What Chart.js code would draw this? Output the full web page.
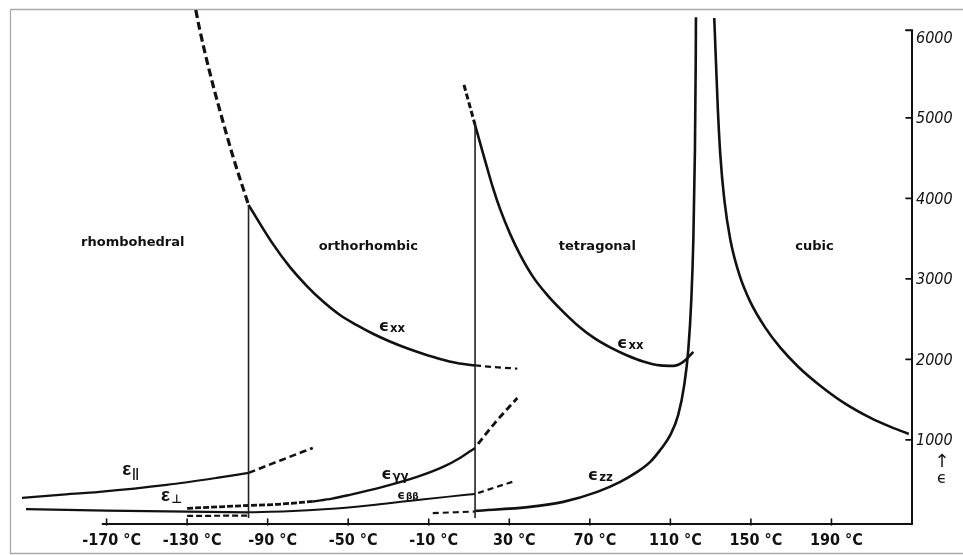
<!DOCTYPE html>
<html>
<head>
<meta charset="utf-8">
<title>Dielectric constant of BaTiO3 single crystals</title>
<script src="https://cdn.jsdelivr.net/npm/chart.js@4.4.1/dist/chart.umd.min.js"></script>
<style>
  html, body { margin: 0; padding: 0; background: #fff; }
  #wrap { width: 963px; height: 555px; }
</style>
</head>
<body>
<div id="wrap"><canvas id="epsChart"></canvas></div>
<script>
// axis ticks: temperature in °C, permittivity
const xTicks = [-170, -130, -90, -50, -10, 30, 70, 110, 150, 190];
const yTicks = [1000, 2000, 3000, 4000, 5000, 6000];
const phases = ['rhombohedral', 'orthorhombic', 'tetragonal', 'cubic'];

// phase transition temperatures
const transitions = [-99.5, 13];

// curves as [temperature, epsilon] pairs
const exxRhombo = [[-125.7, 6340], [-123.8, 6104], [-118.8, 5570], [-113.8, 5098], [-107.3, 4527], [-99.5, 3918]];
const exxOrtho = [[-99.5, 3918], [-87.5, 3438], [-79, 3149], [-70.5, 2911], [-62.6, 2721], [-54.1, 2551],
  [-45.7, 2425], [-37.7, 2318], [-29.3, 2222], [-20.8, 2138], [-12.9, 2070], [-4.4, 2005], [4, 1955],
  [13, 1925]];
const exxOrthoExt = [[13, 1925], [22, 1905], [34, 1885]];
const exxTetraExt = [[7.5, 5409], [13, 4912]];
const exxTetra = [[13, 4912], [15.5, 4689], [19, 4378], [21.9, 4130], [25.4, 3869], [30.4, 3559], [35.4, 3298],
  [41.8, 3025], [48.8, 2801], [55.3, 2627], [63.7, 2428], [71.7, 2273], [80.1, 2149], [88.6, 2049],
  [96.5, 1975], [105, 1925], [111.5, 1919], [116.4, 1969], [121.4, 2093]];
const ezzExt = [[-8, 90], [13, 110]];
const ezz = [[13, 118], [40.3, 168], [56.8, 230], [73.7, 354], [85.1, 478], [93.5, 602], [100, 727],
  [105, 876], [110, 1062], [113.9, 1310], [116.9, 1683], [118.9, 2118], [120.4, 2739], [121.4, 3484],
  [122.2, 4602], [122.6, 5719], [122.7, 6250]];
const cubic = [[131.8, 6241], [132.6, 5719], [133.6, 5098], [134.8, 4540], [136.8, 3981], [139.8, 3484],
  [144.3, 3049], [149.7, 2714], [157.2, 2391], [164.7, 2142], [173.6, 1906], [184.6, 1670], [197, 1447],
  [209.4, 1273], [219.4, 1161], [228.4, 1074]];
const ePar = [[-212, 279], [-193.4, 317], [-173.5, 354], [-140.2, 441], [-115.3, 528], [-99.5, 590]];
const eParExt = [[-99.5, 590], [-83, 751], [-67.6, 900]];
const ePerp = [[-210, 140], [-170, 122], [-130, 108], [-99.5, 100]];
const eBB = [[-99.5, 100], [-80, 112], [-60, 140], [-40, 185], [-20, 240], [0, 295], [13, 329]];
const eBBExtLow = [[-130, 55], [-99.5, 60]];
const eBBExt = [[14.5, 340], [23, 410], [33, 491]];
const eGGExt = [[-130, 150], [-99.5, 185], [-85, 200], [-67.6, 235]];
const eGG = [[-67.6, 235], [-58, 270], [-49.2, 317], [-32.8, 416], [-15.8, 540], [-2.9, 664], [5.5, 776], [13, 900]];
const eGGExtHigh = [[14.5, 950], [23, 1215], [34, 1521]];

const ink = '#111';

function curve(pts, width) {
  return {
    data: pts.map(p => ({ x: p[0], y: p[1] })),
    borderColor: ink,
    borderWidth: width || 2.4,
    pointRadius: 0,
    fill: false,
    cubicInterpolationMode: 'monotone'
  };
}

function dashed(pts, width, dash) {
  const ds = curve(pts, width);
  ds.borderDash = dash || [7, 4];
  return ds;
}

// vertical boundaries between phases, from the eps_xx jump down to the base line
function boundary(t, top) {
  return {
    data: [{ x: t, y: top }, { x: t, y: 30 }],
    borderColor: '#222',
    borderWidth: 1.6,
    pointRadius: 0,
    tension: 0,
    fill: false
  };
}

const datasets = [
  boundary(transitions[0], exxOrtho[0][1]),
  boundary(transitions[1], exxTetra[0][1]),
  dashed(exxRhombo, 3.2, [8, 4]),
  curve(exxOrtho, 2.6),
  dashed(exxOrthoExt, 2.2, [6, 4]),
  dashed(exxTetraExt, 3, [6, 3]),
  curve(exxTetra, 2.6),
  dashed(ezzExt, 2.2, [6, 4]),
  curve(ezz, 2.6),
  curve(cubic, 2.6),
  curve(ePar, 2.2),
  dashed(eParExt, 2.6, [7, 4]),
  curve(ePerp, 2.2),
  curve(eBB, 2),
  dashed(eBBExtLow, 2.2, [6, 3]),
  dashed(eBBExt, 2.2, [6, 4]),
  dashed(eGGExt, 2.8, [6, 2]),
  curve(eGG, 2.4),
  dashed(eGGExtHigh, 2.8, [7, 4])
];

// draw a symbol with a subscript, centred on (x, y)
function subLabel(ctx, x, y, main, sub, mainFont, subFont, drop) {
  ctx.font = mainFont;
  const w1 = ctx.measureText(main).width;
  ctx.font = subFont;
  const w2 = ctx.measureText(sub).width;
  const x0 = x - (w1 + w2 + 1) / 2;
  ctx.textAlign = 'left';
  ctx.textBaseline = 'middle';
  ctx.font = mainFont;
  ctx.fillText(main, x0, y);
  ctx.font = subFont;
  ctx.fillText(sub, x0 + w1 + 1, y + drop);
}

const paperPlugin = {
  id: 'paper',
  beforeDraw(chart) {
    const ctx = chart.ctx;
    ctx.save();
    ctx.fillStyle = '#fff';
    ctx.fillRect(0, 0, chart.width, chart.height);
    ctx.strokeStyle = '#a9a9a9';
    ctx.lineWidth = 1.3;
    ctx.beginPath();
    ctx.moveTo(chart.width, 9.5);
    ctx.lineTo(10.5, 9.5);
    ctx.lineTo(10.5, 553.5);
    ctx.lineTo(chart.width, 553.5);
    ctx.stroke();
    ctx.restore();
  },
  afterDatasetsDraw(chart) {
    const ctx = chart.ctx;
    const xs = chart.scales.x;
    const ys = chart.scales.y;
    const X = v => xs.getPixelForValue(v);
    const Y = v => ys.getPixelForValue(v);
    const base = ys.bottom;
    const right = xs.right;

    ctx.save();
    ctx.strokeStyle = ink;
    ctx.fillStyle = ink;
    ctx.lineCap = 'round';

    // temperature axis
    ctx.lineWidth = 2;
    ctx.beginPath();
    ctx.moveTo(X(-172), base);
    ctx.lineTo(right, base);
    ctx.stroke();
    ctx.lineWidth = 1.6;
    xTicks.forEach(t => {
      ctx.beginPath();
      ctx.moveTo(X(t), base - 5);
      ctx.lineTo(X(t), base + 1);
      ctx.stroke();
    });

    // permittivity axis on the right
    const top = Y(6090);
    ctx.lineWidth = 2;
    ctx.beginPath();
    ctx.moveTo(right - 6, top);
    ctx.lineTo(right, top);
    ctx.lineTo(right, base);
    ctx.stroke();
    ctx.lineWidth = 1.6;
    yTicks.slice(0, -1).forEach(v => {
      ctx.beginPath();
      ctx.moveTo(right - 6, Y(v));
      ctx.lineTo(right, Y(v));
      ctx.stroke();
    });

    // tick labels
    ctx.textBaseline = 'middle';
    ctx.textAlign = 'center';
    ctx.font = "bold 16px 'DejaVu Sans Condensed', 'DejaVu Sans', sans-serif";
    xTicks.forEach(t => {
      ctx.fillText(t + ' °C', X(t) + 5, base + 17);
    });
    ctx.textAlign = 'left';
    ctx.font = "italic 16px 'DejaVu Sans Condensed', 'DejaVu Sans', sans-serif";
    yTicks.forEach(v => {
      ctx.fillText(String(v), right + 4, Y(v) + 1);
    });
    ctx.textAlign = 'center';
    ctx.font = "18px 'DejaVu Sans', sans-serif";
    ctx.fillText('↑', right + 30, Y(1000) + 22);
    ctx.font = "16px 'DejaVu Sans', sans-serif";
    ctx.fillText('ϵ', right + 30, Y(1000) + 39);

    // phase names
    ctx.font = "bold 13px 'DejaVu Sans', sans-serif";
    const phaseAt = [[-157, 3447], [-40, 3397], [73.7, 3397], [181.6, 3397]];
    phases.forEach((name, i) => {
      ctx.fillText(name, X(phaseAt[i][0]), Y(phaseAt[i][1]));
    });

    // curve labels
    const big = "bold 16px 'DejaVu Sans', sans-serif";
    const small = "bold 13px 'DejaVu Sans Condensed', 'DejaVu Sans', sans-serif";
    subLabel(ctx, X(-28.3), Y(2403), 'ϵ', 'xx', big, small, 2);
    subLabel(ctx, X(90.1), Y(2192), 'ϵ', 'xx', big, small, 2);
    subLabel(ctx, X(-26.8), Y(565), 'ϵ', 'γγ', big, small, 2);
    subLabel(ctx, X(-20.3), Y(304), 'ϵ', 'ββ', "bold 12px 'DejaVu Sans', sans-serif",
      "bold 9px 'DejaVu Sans', sans-serif", 1);
    subLabel(ctx, X(75.2), Y(553), 'ϵ', 'zz', big, small, 2);
    subLabel(ctx, X(-158.1), Y(627), 'ε', '||', "bold 19px 'Liberation Sans', sans-serif",
      "bold 12px 'Liberation Sans', sans-serif", 4);
    subLabel(ctx, X(-137.7), Y(304), 'ε', '⊥', "bold 19px 'Liberation Sans', sans-serif",
      "bold 12px 'DejaVu Sans', sans-serif", 4);
    ctx.restore();
  }
};

new Chart(document.getElementById('epsChart'), {
  type: 'line',
  data: { datasets: datasets },
  options: {
    responsive: true,
    maintainAspectRatio: false,
    animation: false,
    layout: { padding: { left: 22, right: 51, top: 10, bottom: 31 } },
    plugins: { legend: { display: false }, tooltip: { enabled: false } },
    scales: {
      x: { type: 'linear', min: -212, max: 230, display: false },
      y: { type: 'linear', min: -45, max: 6340, display: false }
    }
  },
  plugins: [paperPlugin]
});
</script>
</body>
</html>
